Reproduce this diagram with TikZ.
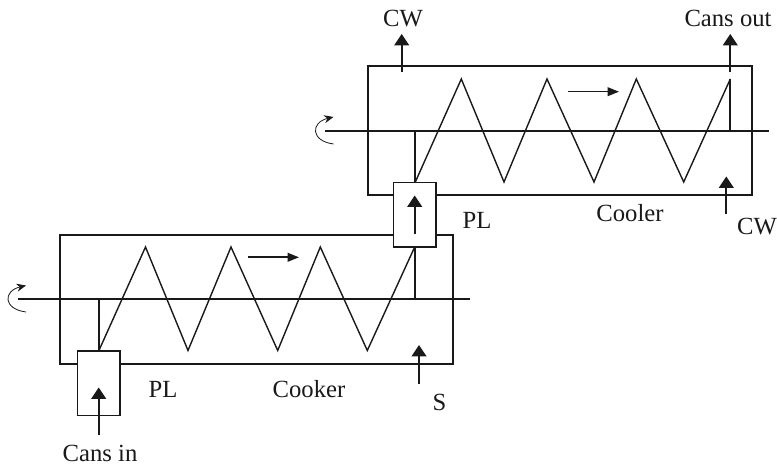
\documentclass[tikz,border=0pt]{standalone}
\usepackage{fontspec}
\setmainfont{Liberation Serif}
\usetikzlibrary{arrows.meta}
\tikzset{
  x=0.75pt,y=-0.75pt,
  wall/.style={draw=black!90,line width=1.25pt},
  shaft/.style={draw=black!90,line width=1.25pt},
  coil/.style={draw=black!90,line width=1.05pt,line join=miter},
  flow/.style={draw=black!90,line width=1.3pt,-{Triangle[length=8.5pt,width=11pt]}},
  sideflow/.style={draw=black!90,line width=1.2pt,-{Triangle[length=8.5pt,width=6.5pt]}},
  rot/.style={draw=black!90,line width=0.6pt,-{Stealth[length=7pt,width=6pt]}},
  lift/.style={draw=black!90,line width=1.25pt,fill=white,minimum width=32pt,minimum height=48.5pt,inner sep=0pt,outer sep=0pt},
  lab/.style={font=\fontsize{18.5}{20}\selectfont,anchor=base,inner sep=0pt,text=black!90}
}
\begin{document}
\begin{tikzpicture}
\useasboundingbox (0,0) rectangle (777,466);
% Cooker
\coordinate (k1) at (60,234.7); \coordinate (k2) at (452.7,234.7);
\coordinate (k3) at (452.7,364); \coordinate (k4) at (60,364);
\draw[wall] (k1) -- (k2) -- (k3) -- (k4) -- cycle;
\coordinate (ks1) at (18,299.3); \coordinate (ks2) at (470,299.3);
\draw[shaft] (ks1) -- (ks2);
\coordinate (z0) at (98.7,351); \coordinate (j0) at (98.7,299.3);
\coordinate (z1) at (145.5,247); \coordinate (z2) at (188,350.5);
\coordinate (z3) at (231,247); \coordinate (z4) at (277.7,350.5);
\coordinate (z5) at (320.3,247); \coordinate (z6) at (367.3,350.5);
\coordinate (z7) at (414.7,247); \coordinate (j7) at (414.7,299.3);
\draw[coil] (z0) -- (z1) -- (z2) -- (z3) -- (z4) -- (z5) -- (z6) -- (z7);
\draw[shaft] (j0) -- (z0);
\draw[shaft] (z7) -- (j7);
% Cooler
\coordinate (c1) at (367.7,66.3); \coordinate (c2) at (751.7,66.3);
\coordinate (c3) at (751.7,195.3); \coordinate (c4) at (367.7,195.3);
\draw[wall] (c1) -- (c2) -- (c3) -- (c4) -- cycle;
\coordinate (cs1) at (325,131); \coordinate (cs2) at (769,131);
\draw[shaft] (cs1) -- (cs2);
\coordinate (y0) at (415,182.7); \coordinate (i0) at (415,131);
\coordinate (y1) at (461.3,79); \coordinate (y2) at (504,182);
\coordinate (y3) at (547,79); \coordinate (y4) at (594,182);
\coordinate (y5) at (636.3,79); \coordinate (y6) at (683.7,182);
\coordinate (y7) at (730.3,79); \coordinate (i7) at (730.3,131);
\draw[coil] (y0) -- (y1) -- (y2) -- (y3) -- (y4) -- (y5) -- (y6) -- (y7);
\draw[shaft] (i0) -- (y0);
\draw[shaft] (y7) -- (i7);
% Pocket lifts
\node[lift] (pl1) at (98.7,383.3) {};
\node[lift] (pl2) at (414.7,215) {};
% Arrows
\coordinate (a1s) at (98.7,435); \coordinate (a1e) at (98.7,387.5);
\draw[flow] (a1s) -- (a1e);
\coordinate (a2s) at (414.7,234.5); \coordinate (a2e) at (414.7,195.5);
\draw[flow] (a2s) -- (a2e);
\coordinate (a3s) at (401.7,72.5); \coordinate (a3e) at (401.7,34);
\draw[flow] (a3s) -- (a3e);
\coordinate (a4s) at (730.3,72.5); \coordinate (a4e) at (730.3,34);
\draw[flow] (a4s) -- (a4e);
\coordinate (a5s) at (726.3,214.5); \coordinate (a5e) at (726.3,176.5);
\draw[flow] (a5s) -- (a5e);
\coordinate (a6s) at (419,383.5); \coordinate (a6e) at (419,345);
\draw[flow] (a6s) -- (a6e);
\coordinate (f1s) at (248,257.3); \coordinate (f1e) at (299,257.3);
\draw[sideflow] (f1s) -- (f1e);
\coordinate (f2s) at (568,91.7); \coordinate (f2e) at (619,91.7);
\draw[sideflow] (f2s) -- (f2e);
% Rotation
\coordinate (r1s) at (26,312); \coordinate (r1e) at (26,285.5);
\draw[rot] (r1s) .. controls (3,309) and (3,291) .. (r1e);
\coordinate (r2s) at (333.5,144); \coordinate (r2e) at (333.5,117);
\draw[rot] (r2s) .. controls (310.5,141) and (310.5,122.5) .. (r2e);
% Labels
\node[lab] (t1) at (100,461.5) {Cans in};
\node[lab] (t2) at (163,397) {PL};
\node[lab] (t3) at (477,228.5) {PL};
\node[lab] (t4) at (403,26.5) {CW};
\node[lab] (t5) at (728,26.5) {Cans out};
\node[lab] (t6) at (630,222) {Cooler};
\node[lab] (t7) at (757,235) {CW};
\node[lab] (t8) at (309,397) {Cooker};
\node[lab] (t9) at (439.5,410) {S};
\end{tikzpicture}
\end{document}
